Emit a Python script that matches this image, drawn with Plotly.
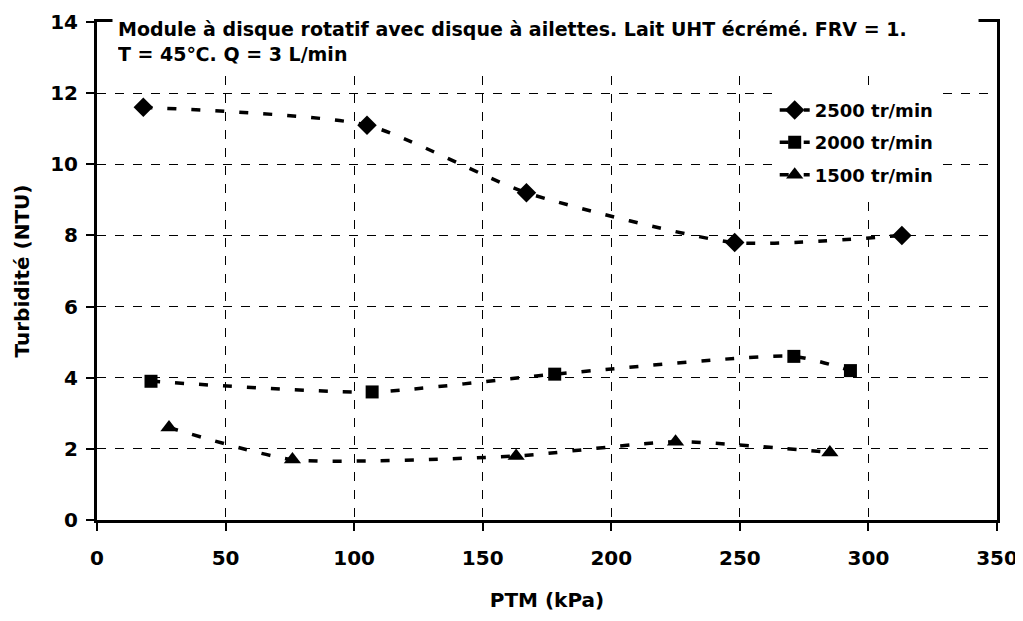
import plotly.graph_objects as go

ptm_2500 = [18, 105, 167, 248, 313]
turb_2500 = [11.6, 11.1, 9.2, 7.8, 8.0]
ptm_2000 = [21, 107, 178, 271, 293]
turb_2000 = [3.9, 3.6, 4.1, 4.6, 4.2]
ptm_1500 = [28, 76, 163, 225, 285]
turb_1500 = [2.6, 1.7, 1.8, 2.2, 1.9]

series = [
    ("2500 tr/min", ptm_2500, turb_2500, "diamond", 15),
    ("2000 tr/min", ptm_2000, turb_2000, "square", 13),
    ("1500 tr/min", ptm_1500, turb_1500, "triangle-up", 15),
]

FONT = "DejaVu Sans, sans-serif"

fig = go.Figure()
for i, (name, xs, ys, sym, sz) in enumerate(series):
    fig.add_trace(go.Scatter(
        x=xs, y=ys, name=name, mode="lines+markers",
        legendgroup=f"g{i}",
        line=dict(color="black", width=3.5, dash="9px,15px", shape="spline", smoothing=0.6),
        marker=dict(symbol=sym, size=sz, color="black"),
    ))

axis_common = dict(
    showline=True, linecolor="black", linewidth=3, mirror=True,
    ticks="outside", ticklen=8, tickwidth=2, tickcolor="black",
    showgrid=True, gridcolor="black", gridwidth=1, griddash="dash",
    zeroline=False, automargin=False, ticklabeloverflow="allow",
    tickfont=dict(family=FONT, size=20, color="black", weight="bold"),
)

fig.update_xaxes(range=[0, 350], dtick=50, tick0=0, ticklabelstandoff=10,
                 title=dict(text="<b>PTM (kPa)</b>", font=dict(family=FONT, size=20, color="black"), standoff=24),
                 **axis_common)
fig.update_yaxes(range=[0, 14], dtick=2, tick0=0, ticklabelstandoff=4,
                 title=dict(text="<b>Turbidité (NTU)</b>", font=dict(family=FONT, size=20, color="black"), standoff=16),
                 **axis_common)

fig.add_annotation(
    x=0.0167, y=1.0, xref="paper", yref="paper", xanchor="left", yanchor="top",
    yshift=10, width=855,
    align="left", showarrow=False, bgcolor="white", borderpad=5,
    text="<b>Module à disque rotatif avec disque à ailettes. Lait UHT écrémé. FRV = 1.<br>T = 45℃. Q = 3 L/min</b>",
    font=dict(family=FONT, size=19, color="black"),
)

fig.update_layout(
    width=1015, height=613,
    margin=dict(l=89, r=26, t=14, b=101),
    paper_bgcolor="white", plot_bgcolor="white",
    showlegend=True,
    legend=dict(
        x=0.753, y=0.86, xanchor="left", yanchor="top",
        bgcolor="white", borderwidth=0, tracegroupgap=6,
        font=dict(family=FONT, size=18, color="black", weight="bold"),
    ),
)

fig.write_html("out.html")
